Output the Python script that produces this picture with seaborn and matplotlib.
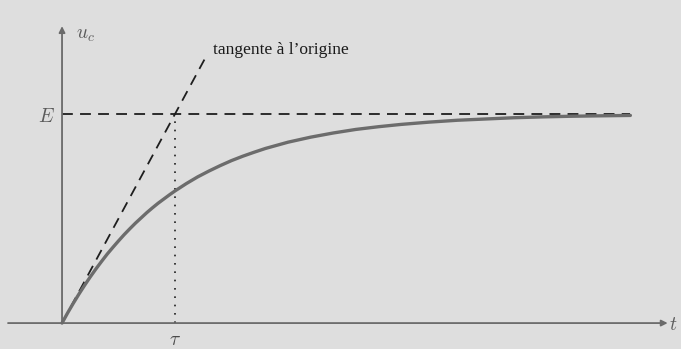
import numpy as np
import pandas as pd
import seaborn as sns
import matplotlib
matplotlib.use('Agg')
import matplotlib.pyplot as plt

# charge curve (t in units of tau, uc in units of E)
t_vals = [0, 0.05, 0.1, 0.15, 0.2, 0.25, 0.3, 0.35, 0.4, 0.45, 0.5, 0.55, 0.6,
          0.65, 0.7, 0.75, 0.8, 0.85, 0.9, 0.95, 1.0, 1.1, 1.2, 1.3, 1.4, 1.5,
          1.6, 1.7, 1.8, 1.9, 2.0, 2.2, 2.4, 2.6, 2.8, 3.0, 3.25, 3.5, 3.75,
          4.0, 4.25, 4.5, 4.75, 5.03]
uc_vals = [0, 0.049, 0.095, 0.139, 0.181, 0.221, 0.259, 0.295, 0.33, 0.362,
           0.393, 0.423, 0.451, 0.478, 0.503, 0.528, 0.551, 0.573, 0.593, 0.613,
           0.632, 0.667, 0.699, 0.727, 0.753, 0.777, 0.798, 0.817, 0.835, 0.85,
           0.865, 0.889, 0.909, 0.926, 0.939, 0.95, 0.961, 0.97, 0.976, 0.982,
           0.986, 0.989, 0.991, 0.993]

tangent_t = [0, 1.26]
tangent_u = [0, 1.26]
E_line_t = [0, 5.03]
E_line_u = [1, 1]
tau = 1.0

df = pd.DataFrame({'t': t_vals, 'uc': uc_vals})

sns.set_style('white')
plt.rcParams['font.family'] = ['Liberation Serif', 'DejaVu Serif']
plt.rcParams['mathtext.fontset'] = 'cm'

fig = plt.figure(figsize=(6.81, 3.49), dpi=100)
fig.patch.set_facecolor('#dedede')
ax = fig.add_axes([0, 0, 1, 1])
ax.set_facecolor('#dedede')

axis_col = '#6a6a6a'
# axes with arrows
ax.annotate('', xy=(5.36, 0), xytext=(-0.478, 0),
            arrowprops=dict(arrowstyle='-|>', color=axis_col, lw=1.3,
                            mutation_scale=9, shrinkA=0, shrinkB=0))
ax.annotate('', xy=(0, 1.42), xytext=(0, 0),
            arrowprops=dict(arrowstyle='-|>', color=axis_col, lw=1.3,
                            mutation_scale=9, shrinkA=0, shrinkB=0))

# dashed guides
ax.plot(tangent_t, tangent_u, color='#1e1e1e', lw=1.3, ls=(0, (6, 4)))
ax.plot(E_line_t, E_line_u, color='#1e1e1e', lw=1.3, ls=(0, (6, 4)))
ax.plot([tau, tau], [0, 1], color='#1e1e1e', lw=1.2, ls=(0, (1, 4)))

sns.lineplot(data=df, x='t', y='uc', ax=ax, color='#6c6c6c', lw=2.4,
             legend=False, solid_capstyle='round')
ax.set_xlim(-0.549, 5.478)
ax.set_ylim(-0.124, 1.545)
ax.axis('off')

ax.text(1.336, 1.306, "tangente à l’origine", fontsize=12.5, color='#1a1a1a',
        ha='left', va='center')
ax.text(0.12, 1.373, r'$u_c$', fontsize=14, color='#5a5a5a', ha='left', va='center')
ax.text(-0.142, 0.986, r'$E$', fontsize=14, color='#5a5a5a', ha='center', va='center')
ax.text(tau, -0.081, r'$\tau$', fontsize=14, color='#4a4a4a', ha='center', va='center')
ax.text(5.41, -0.01, r'$t$', fontsize=14, color='#5a5a5a', ha='center', va='center')

fig.savefig('out.png', dpi=100, facecolor=fig.get_facecolor())
